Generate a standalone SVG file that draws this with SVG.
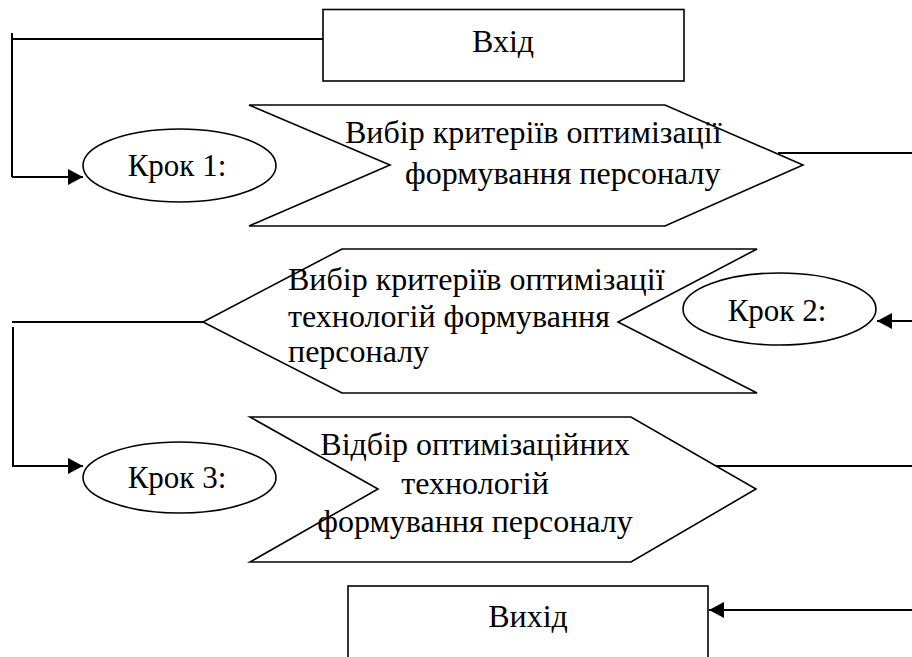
<svg xmlns="http://www.w3.org/2000/svg" width="912" height="657" viewBox="0 0 912 657">
<style>
.shape{fill:#fff;stroke:#000;stroke-width:1.6}
.conn{fill:none;stroke:#000;stroke-width:2}
text{font-family:"Liberation Serif","Times New Roman",serif;font-size:32px;fill:#000}
.krok{font-size:31px}
</style>
<defs>
<marker id="arr" markerUnits="userSpaceOnUse" markerWidth="16" markerHeight="16" viewBox="0 0 16 16" refX="15" refY="8" orient="auto">
<path d="M0,0 L15,8 L0,16 Z" fill="#000"/>
</marker>
</defs>
<rect width="912" height="657" fill="#fff"/>
<g id="connectors">
<polyline class="conn" points="323,39 12,39"/>
<line class="conn" x1="12" y1="33" x2="12" y2="177"/>
<line class="conn" x1="12" y1="177" x2="83" y2="177" marker-end="url(#arr)"/>
<line class="conn" x1="778" y1="153" x2="912" y2="153"/>
<line class="conn" x1="912" y1="321" x2="877" y2="321" marker-end="url(#arr)"/>
<line class="conn" x1="203" y1="322" x2="12" y2="322"/>
<line class="conn" x1="13" y1="327" x2="13" y2="467"/>
<line class="conn" x1="13" y1="466" x2="83" y2="466" marker-end="url(#arr)"/>
<line class="conn" x1="708" y1="466" x2="912" y2="466"/>
<line class="conn" x1="912" y1="610" x2="709" y2="610" marker-end="url(#arr)"/>
</g>
<g id="vkhid">
<rect class="shape" x="323" y="9.5" width="361" height="71.5"/>
<text x="503" y="52" text-anchor="middle">Вхід</text>
</g>
<g id="step1-box">
<polygon class="shape" points="249,105 665,105 803,165 665,226 249,226 390,165"/>
<text x="345" y="143">Вибір критеріїв оптимізації</text>
<text x="405" y="184">формування персоналу</text>
</g>
<g id="krok1">
<ellipse class="shape" cx="179.5" cy="165.5" rx="96.5" ry="36.5"/>
<text class="krok" x="177" y="176" text-anchor="middle">Крок 1:</text>
</g>
<g id="step2-box">
<polygon class="shape" points="203,322 342,249 757,249 618,322 757,393 342,393"/>
<text x="288" y="290">Вибір критеріїв оптимізації</text>
<text x="288" y="327">технологій формування</text>
<text x="288" y="362">персоналу</text>
</g>
<g id="krok2">
<ellipse class="shape" cx="779.5" cy="309" rx="96.5" ry="36"/>
<text class="krok" x="777" y="321" text-anchor="middle">Крок 2:</text>
</g>
<g id="step3-box">
<polygon class="shape" points="250,417 631,417 756,489 631,562 250,562 378,489"/>
<text x="475" y="455" text-anchor="middle">Відбір оптимізаційних</text>
<text x="475" y="494" text-anchor="middle">технологій</text>
<text x="475" y="532" text-anchor="middle">формування персоналу</text>
</g>
<g id="krok3">
<ellipse class="shape" cx="179.5" cy="477.5" rx="96.5" ry="35.5"/>
<text class="krok" x="177" y="488" text-anchor="middle">Крок 3:</text>
</g>
<g id="vykhid">
<rect class="shape" x="348" y="586" width="360" height="80"/>
<text x="528" y="627" text-anchor="middle">Вихід</text>
</g>
</svg>
